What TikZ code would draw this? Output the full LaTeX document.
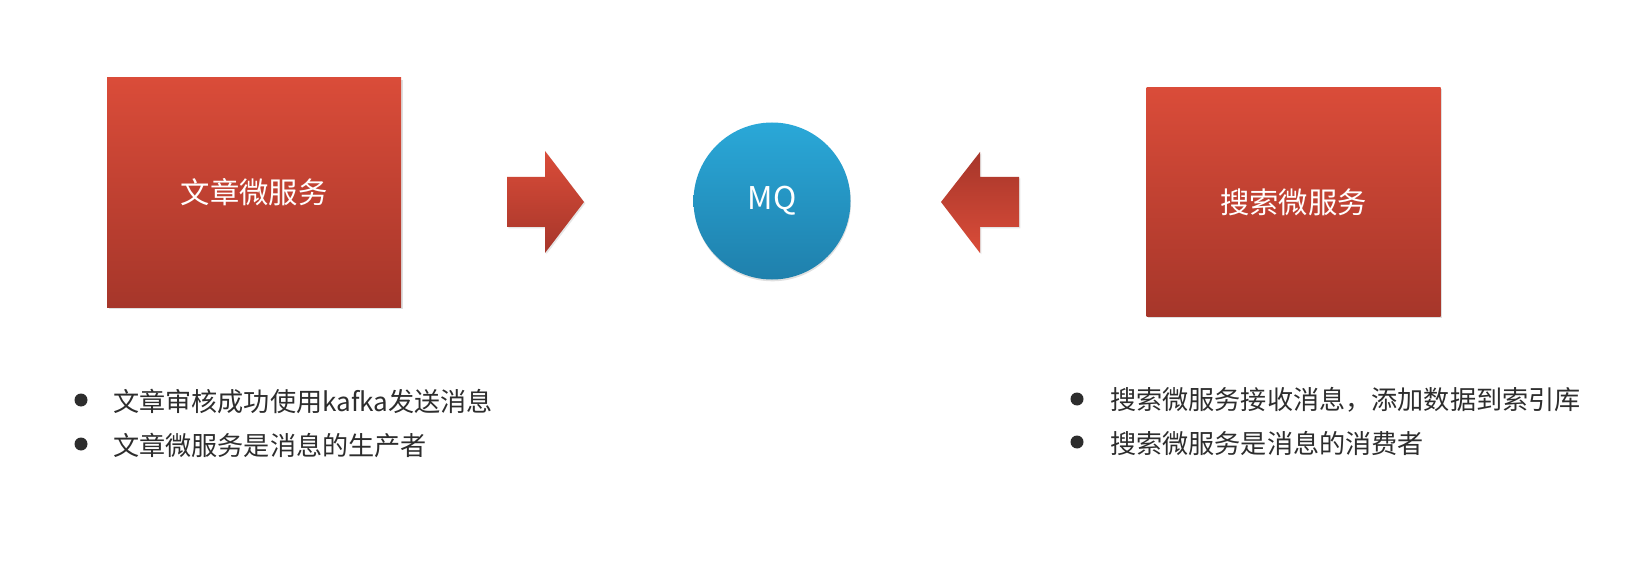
\documentclass[tikz,border=0pt]{standalone}
\usepackage{fontspec}
\setmainfont{Noto Sans CJK SC}
\usetikzlibrary{shadows}
\definecolor{redtop}{RGB}{218,76,57}
\definecolor{redbot}{RGB}{166,54,42}
\definecolor{bluetop}{RGB}{42,168,216}
\definecolor{bluebot}{RGB}{31,128,172}
\definecolor{txtgray}{RGB}{45,45,45}
\tikzset{
  svcbox/.style={rectangle, top color=redtop, bottom color=redbot, draw=none,
    minimum width=294*0.75pt, minimum height=229*0.75pt, inner sep=0pt,
    text=white, font=\fontsize{22pt}{26pt}\selectfont,
    drop shadow={shadow xshift=1.2pt, shadow yshift=-1.2pt, opacity=0.25}},
  mqnode/.style={circle, top color=bluetop, bottom color=bluebot, draw=none,
    minimum size=157*0.75pt, inner sep=0pt, text=white,
    font=\fontsize{23.5pt}{27pt}\selectfont},
  bullettext/.style={anchor=west, text=txtgray, inner sep=0pt,
    font=\fontsize{19.6pt}{23pt}\selectfont},
  bulletdot/.style={circle, fill=txtgray, minimum size=13*0.75pt, inner sep=0pt}
}
\begin{document}
\begin{tikzpicture}[x=0.75pt, y=-0.75pt]
\useasboundingbox (0,0) rectangle (1628,574);
\fill[white] (0,0) rectangle (1628,574);

% service boxes
\node[svcbox] (article) at (254,192.5) {文章微服务};
\fill[black, opacity=0.12] (772.5,202.8) circle[radius=78.5];
\node[mqnode] (mq) at (772,201) {MQ};
\node[svcbox] (search) at (1293.5,202) {搜索微服务};

% block arrows
\shade[top color=redtop, bottom color=redbot,
  drop shadow={shadow xshift=1pt, shadow yshift=-1pt, opacity=0.2}]
  (507,177) -- (545,177) -- (545,151) -- (584,202) -- (545,253) -- (545,227) -- (507,227) -- cycle;
\shade[top color=redbot, bottom color=redtop,
  drop shadow={shadow xshift=1pt, shadow yshift=-1pt, opacity=0.2}]
  (1019,177) -- (980,177) -- (980,152) -- (941,202) -- (980,253) -- (980,227) -- (1019,227) -- cycle;

% left bullets
\node[bulletdot] (lb1) at (81,400) {};
\node[bullettext] (lt1) at (113,401) {文章审核成功使用kafka发送消息};
\node[bulletdot] (lb2) at (81,444) {};
\node[bullettext] (lt2) at (113,445) {文章微服务是消息的生产者};

% right bullets
\node[bulletdot] (rb1) at (1077,399) {};
\node[bullettext] (rt1) at (1110,400) {搜索微服务接收消息，添加数据到索引库};
\node[bulletdot] (rb2) at (1077,442) {};
\node[bullettext] (rt2) at (1110,443) {搜索微服务是消息的消费者};
\end{tikzpicture}
\end{document}
